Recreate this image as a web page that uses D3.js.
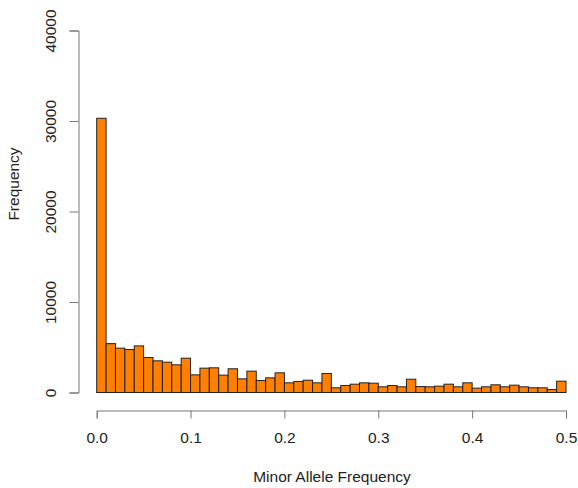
<!DOCTYPE html>
<html>
<head>
<meta charset="utf-8">
<script src="https://cdn.jsdelivr.net/npm/d3@7"></script>
<style>
  html, body { margin: 0; padding: 0; background: #fff; }
  svg { display: block; }
  text { font-family: "Liberation Sans", Arial, sans-serif; fill: #222; }
</style>
</head>
<body>
<svg id="chart" width="578" height="488"></svg>
<script>
// Histogram of minor allele frequencies, bins of width 0.01 from 0 to 0.5
const binStarts = d3.range(50).map(i => i / 100);
const binWidth = 0.01;
const counts = [
  30300, 5400, 4900, 4750, 5150, 3870, 3500, 3350, 3060, 3790,
  1950, 2690, 2730, 1920, 2620, 1510, 2360, 1330, 1620, 2170,
  1070, 1220, 1360, 1070, 2100, 520, 770, 920, 1070, 1030,
  630, 770, 630, 1470, 660, 630, 700, 920, 630, 1070,
  480, 630, 850, 630, 810, 630, 520, 520, 330, 1250
];
const xTicks = [0, 0.1, 0.2, 0.3, 0.4, 0.5];
const yTicks = [0, 10000, 20000, 30000, 40000];

const svg = d3.select("#chart");

const x = d3.scaleLinear().domain([0, 0.5]).range([96.7, 566]);
const y = d3.scaleLinear().domain([0, 40000]).range([392.5, 30.5]);

// bars
svg.append("g")
  .selectAll("rect")
  .data(binStarts)
  .join("rect")
  .attr("x", (d) => x(d))
  .attr("width", (d) => x(d + binWidth) - x(d))
  .attr("y", (d, i) => y(counts[i]))
  .attr("height", (d, i) => y(0) - y(counts[i]))
  .attr("fill", "#FF7F00")
  .attr("stroke", "#222")
  .attr("stroke-width", 1);

// x axis, drawn below the plot area
const xAxis = svg.append("g")
  .attr("transform", "translate(0,410.5)")
  .call(d3.axisBottom(x).tickValues(xTicks).tickFormat(d3.format(".1f")).tickSize(8).tickPadding(6));

// y axis, left of the plot area
const yAxis = svg.append("g")
  .attr("transform", "translate(78.5,0)")
  .call(d3.axisLeft(y).tickValues(yTicks).tickFormat(d3.format("d")).tickSize(9));

[xAxis, yAxis].forEach(g => {
  g.select(".domain").attr("stroke", "#777").attr("stroke-width", 1);
  g.selectAll(".tick line").attr("stroke", "#777").attr("stroke-width", 1);
  g.selectAll(".tick text")
    .style("font-family", "'Liberation Sans', Arial, sans-serif")
    .style("font-size", "15.5px")
    .attr("fill", "#222");
});

// x tick labels sit on a common baseline
xAxis.selectAll(".tick text")
  .attr("y", 0).attr("dy", null)
  .attr("transform", "translate(0,32.5)");

// y tick labels are rotated to run along the axis
yAxis.selectAll(".tick text")
  .attr("x", null).attr("dy", null)
  .attr("text-anchor", "middle")
  .attr("transform", "translate(-22.5,0) rotate(-90)");

// axis titles
svg.append("text")
  .attr("x", 332)
  .attr("y", 481.5)
  .attr("text-anchor", "middle")
  .style("font-size", "15.5px")
  .text("Minor Allele Frequency");

svg.append("text")
  .attr("transform", "translate(18.5,184) rotate(-90)")
  .attr("text-anchor", "middle")
  .style("font-size", "15.5px")
  .text("Frequency");
</script>
</body>
</html>
